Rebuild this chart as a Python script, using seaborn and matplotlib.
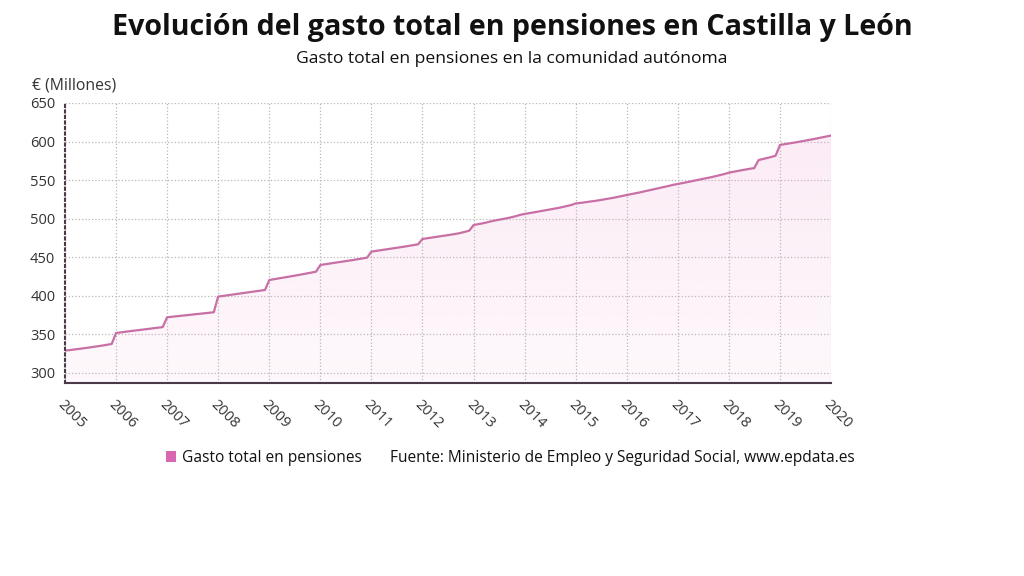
import numpy as np
import pandas as pd
import matplotlib
matplotlib.use('Agg')
import matplotlib.pyplot as plt
import seaborn as sns
from matplotlib.patches import Patch

# Monthly total pension spending in Castilla y León (million EUR)
y2005 = [329.0, 329.6, 330.3, 331.0, 331.7, 332.4, 333.2, 334.0, 334.8, 335.7, 336.6, 337.6]
y2006 = [351.8, 352.6, 353.3, 354.0, 354.7, 355.4, 356.0, 356.7, 357.4, 358.1, 358.8, 359.5]
y2007 = [372.2, 372.8, 373.4, 374.0, 374.6, 375.2, 375.8, 376.4, 377.0, 377.5, 378.1, 378.7]
y2008 = [399.0, 399.8, 400.5, 401.3, 402.0, 402.8, 403.6, 404.4, 405.2, 406.0, 406.8, 407.6]
y2009 = [420.5, 421.5, 422.4, 423.3, 424.2, 425.2, 426.2, 427.1, 428.1, 429.2, 430.3, 431.3]
y2010 = [440.0, 440.9, 441.7, 442.5, 443.3, 444.1, 445.0, 445.8, 446.7, 447.6, 448.5, 449.5]
y2011 = [457.3, 458.2, 459.0, 459.8, 460.6, 461.4, 462.3, 463.1, 464.0, 465.0, 465.9, 466.8]
y2012 = [473.7, 474.6, 475.4, 476.2, 477.0, 477.8, 478.7, 479.6, 480.5, 481.6, 483.0, 484.5]
y2013 = [491.8, 492.8, 493.8, 495.0, 496.4, 497.6, 498.6, 499.6, 500.8, 502.0, 503.4, 505.0]
y2014 = [506.2, 507.1, 508.0, 509.0, 510.0, 511.0, 512.0, 513.0, 514.0, 515.2, 516.5, 517.8]
y2015 = [519.8, 520.4, 521.1, 521.8, 522.6, 523.4, 524.3, 525.2, 526.2, 527.2, 528.4, 529.6]
y2016 = [530.7, 531.8, 532.9, 534.0, 535.2, 536.4, 537.6, 538.8, 540.0, 541.3, 542.7, 544.0]
y2017 = [545.0, 546.1, 547.2, 548.3, 549.4, 550.5, 551.6, 552.8, 554.0, 555.3, 556.6, 558.0]
y2018 = [559.7, 560.8, 561.8, 562.8, 563.8, 564.8, 565.6, 576.0, 577.3, 578.7, 580.1, 581.7]
y2019 = [595.6, 596.5, 597.4, 598.3, 599.2, 600.2, 601.2, 602.2, 603.3, 604.4, 605.5, 606.7]
y2020 = [607.8]

gasto = (y2005 + y2006 + y2007 + y2008 + y2009 + y2010 + y2011 + y2012 + y2013
         + y2014 + y2015 + y2016 + y2017 + y2018 + y2019 + y2020)
fechas = pd.date_range('2005-01-01', periods=len(gasto), freq='MS')
year_ticks = list(range(2005, 2021))
y_ticks = [300, 350, 400, 450, 500, 550, 600, 650]

df = pd.DataFrame({'fecha': fechas, 'gasto': gasto})

line_color = '#c86fa6'
text_color = '#333333'
y_min = 287

sns.set_style('white')
plt.rcParams['font.family'] = ['Open Sans', 'DejaVu Sans']

fig = plt.figure(figsize=(10.24, 5.76), dpi=100)
ax = fig.add_axes([65 / 1024, 1 - 383 / 576, (831 - 65) / 1024, (383 - 103) / 576])

sns.lineplot(data=df, x='fecha', y='gasto', ax=ax, color=line_color, linewidth=1.6)

# soft vertical gradient under the line
fill = ax.fill_between(df['fecha'], df['gasto'], y_min, color='none', linewidth=0)
grad = np.linspace(0.22, 0.08, 256).reshape(-1, 1)
rgba = np.zeros((256, 1, 4))
rgba[..., :3] = matplotlib.colors.to_rgb('#f0a8d2')
rgba[..., 3] = grad
x0, x1 = matplotlib.dates.date2num(fechas[0]), matplotlib.dates.date2num(fechas[-1])
img = ax.imshow(rgba, extent=[x0, x1, y_min, max(gasto)], origin='upper',
                aspect='auto', zorder=1)
img.set_clip_path(fill.get_paths()[0], transform=ax.transData)

ax.set_ylim(y_min, 650)
ax.set_xlim(pd.Timestamp('2005-01-01'), pd.Timestamp('2020-01-01'))
ax.set_yticks(y_ticks)
ax.set_yticklabels([str(v) for v in y_ticks], fontsize=10.5, color=text_color)
xt = [pd.Timestamp(f'{y}-01-01') for y in year_ticks]
ax.set_xticks(xt)
ax.set_xticklabels([str(y) for y in year_ticks], rotation=-45, ha='left', va='top',
                   rotation_mode='anchor', fontsize=10.5, color=text_color)
ax.tick_params(axis='x', length=4, width=1, color='#4a3a48', pad=6)
ax.tick_params(axis='y', length=4, width=1, color='#4a3a48', pad=3)

ax.grid(True, linestyle=':', color='#b8b8b8', linewidth=0.9)
ax.set_axisbelow(True)
for side in ['top', 'right']:
    ax.spines[side].set_visible(False)
ax.spines['bottom'].set_color('#4a3a48')
ax.spines['bottom'].set_linewidth(1.5)
ax.spines['left'].set_color('#4a3a48')
ax.spines['left'].set_linestyle(':')
ax.spines['left'].set_linewidth(1.5)
ax.set_xlabel('')
ax.set_ylabel('')

fig.text(0.5, 1 - 27 / 576, 'Evolución del gasto total en pensiones en Castilla y León',
         ha='center', va='center', fontsize=20.6, fontweight='bold', color='#111111')
fig.text(512 / 1024, 1 - 59 / 576, 'Gasto total en pensiones en la comunidad autónoma',
         ha='center', va='center', fontsize=12.6, color='#111111')
fig.text(32 / 1024, 1 - 86 / 576, '€ (Millones)', ha='left', va='center',
         fontsize=11.3, color=text_color)

handle = Patch(facecolor='#d966b0', edgecolor='none')
fig.legend([handle], ['Gasto total en pensiones'], loc='center left',
           bbox_to_anchor=(152 / 1024, 1 - 458 / 576), frameon=False,
           fontsize=11.2, handlelength=0.65, handleheight=0.65, handletextpad=0.35,
           labelcolor='#111111')
fig.text(390 / 1024, 1 - 458 / 576,
         'Fuente: Ministerio de Empleo y Seguridad Social, www.epdata.es',
         ha='left', va='center', fontsize=11.2, color='#111111')

fig.savefig('out.png', dpi=100)
